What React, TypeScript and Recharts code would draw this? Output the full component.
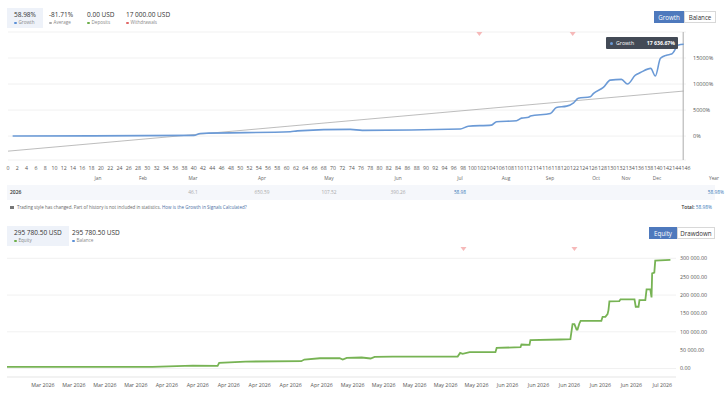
import React from "react";
import {
  LineChart,
  Line,
  XAxis,
  YAxis,
  CartesianGrid,
  ReferenceLine,
  ReferenceDot,
} from "recharts";

// growth chart: [trade index, growth %]
const growthPoints = [
  [1, 0], [40, 130], [41.4, 500], [60.8, 830], [62.3, 1000], [73.7, 1280],
  [76.3, 1100], [97.4, 1350], [99.1, 1900], [104.1, 2100], [105.2, 2750],
  [109.5, 2950], [110.6, 3450], [112.1, 3600], [112.5, 3850], [116.8, 4350],
  [118.1, 5500], [120.3, 5750], [121.8, 6400], [122.8, 7250], [125.4, 7550],
  [126.1, 8200], [128.2, 9350], [129.7, 10750], [132.1, 10900], [133.4, 10000],
  [135.1, 11700], [136.2, 12200], [138.4, 13000], [139.4, 11550], [140.5, 14950],
  [141.8, 15550], [142.9, 15750], [144.4, 17500], [145.5, 17636.67],
];
const trendPoints = [[0, -2900], [145.5, 8650]];
const growthTicks = [
  0, 2, 4, 6, 8, 10, 12, 14, 16, 18, 20, 22, 24, 26, 28, 30, 32, 34, 36, 38,
  40, 42, 44, 46, 48, 50, 52, 54, 56, 58, 60, 62, 64, 66, 68, 70, 72, 74, 76,
  78, 80, 82, 84, 86, 88, 90, 92, 94, 96, 98, 100, 102, 104, 106, 108, 110,
  112, 114, 116, 118, 120, 122, 124, 126, 128, 130, 132, 134, 136, 138, 140,
  142, 144, 146,
];
const growthYTicks = [0, 5000, 10000, 15000];
const growthMarks = [101.5, 121.6];

const months = ["Jan", "Feb", "Mar", "Apr", "May", "Jun", "Jul", "Aug", "Sep", "Oct", "Nov", "Dec", "Year"];
const monthResults = ["", "", "46.1", "650.59", "107.52", "390.26", "58.98", "", "", "", "", "", "58.98%"];

// equity chart: [trade index, USD]
const equityPoints = [
  [0, 4400], [47, 4400], [60, 8200], [68, 7200], [68.5, 15300], [77, 19000],
  [95, 20000], [96, 24500], [101, 28000], [107.4, 28000], [108.4, 24500],
  [109.7, 29000], [114.5, 30000], [117.4, 27300], [118.7, 31800], [124.5, 32700],
  [145.5, 32700], [146.3, 42600], [147.1, 39800], [149.4, 44500], [157.7, 44500],
  [158.1, 56200], [165.8, 58100], [166.1, 65400], [168.7, 64400], [169, 77200],
  [178.7, 79100], [181.9, 80000], [182.6, 120800], [183.2, 120800], [183.9, 106300],
  [184.2, 106300], [184.8, 122700], [185.2, 129900], [191.9, 129900], [192.3, 140800],
  [193.2, 140800], [193.9, 148100], [194.2, 159000], [194.5, 182700], [197.7, 183600],
  [198.1, 188300], [202.6, 188300], [203, 168100], [203.9, 168100], [204.2, 186300],
  [206.1, 186300], [206.5, 215500], [207.7, 215500], [208.1, 193700], [208.3, 259100],
  [209, 260900], [209.3, 293600], [214.2, 295780.5],
];
const equityTicks = [
  11.6, 21.6, 31.6, 41.6, 51.6, 61.6, 71.6, 81.6, 91.6, 101.6, 111.6, 121.6,
  131.6, 141.6, 151.6, 161.6, 171.6, 181.6, 191.6, 201.6, 211.6,
];
const equityLabels = [
  "Mar 2026", "Mar 2026", "Mar 2026", "Mar 2026", "Apr 2026", "Apr 2026",
  "Apr 2026", "Apr 2026", "Apr 2026", "Apr 2026", "May 2026", "May 2026",
  "May 2026", "May 2026", "May 2026", "Jun 2026", "Jun 2026", "Jun 2026",
  "Jun 2026", "Jun 2026", "Jul 2026",
];
const equityYTicks = [0, 50000, 100000, 150000, 200000, 250000, 300000];
const equityMarks = [147.4, 183.2];

// column centres of the calendar table
const monthCols = [98, 143, 193, 262, 329, 398, 460, 506, 550, 596, 626, 657, 704];

const font = "'Open Sans', 'Noto Sans', sans-serif";
const growthData = growthPoints.map(([x, y]) => ({ x, y }));
const trendData = trendPoints.map(([x, y]) => ({ x, y }));
const equityData = equityPoints.map(([x, y]) => ({ x, y }));

// non-breaking space so the svg text does not wrap
const fmtUsd = (v: number) =>
  v.toFixed(2).replace(/\B(?=(\d{3})+(?!\d))/g, "\u00a0");

const Tri = (p: any) => (
  <path
    d={`M${p.cx - 3},${p.cy - 2} L${p.cx + 3},${p.cy - 2} L${p.cx},${p.cy + 2} Z`}
    fill="#f6b9b9"
  />
);

function Stat({ left, top, value, label, color, active }: any) {
  return (
    <div
      style={{
        position: "absolute",
        left,
        top,
        padding: "4px 7px 3px 7px",
        background: active ? "#eef2f9" : "transparent",
        lineHeight: 1,
      }}
    >
      <div style={{ fontSize: 6.5, color: "#333" }}>{value}</div>
      <div style={{ fontSize: 4.6, color: "#888", marginTop: 1.5 }}>
        <span style={{ display: "inline-block", width: 2.5, height: 2.5, borderRadius: 2, background: color, marginRight: 2, verticalAlign: "middle" }} />
        {label}
      </div>
    </div>
  );
}

function Toggle({ left, top, items, widths }: any) {
  return (
    <div style={{ position: "absolute", left, top, display: "flex", fontSize: 6.2 }}>
      {items.map((t: string, i: number) => (
        <div
          key={t}
          style={{
            width: widths[i],
            height: 12,
            lineHeight: "12px",
            textAlign: "center",
            background: i === 0 ? "#4e79bd" : "#fff",
            color: i === 0 ? "#fff" : "#333",
            border: "0.5px solid " + (i === 0 ? "#4e79bd" : "#d8d8d8"),
            boxSizing: "border-box",
          }}
        >
          {t}
        </div>
      ))}
    </div>
  );
}

export default function App() {
  return (
    <div
      style={{
        position: "absolute",
        left: 0,
        top: 0,
        width: 726,
        height: 400,
        background: "#fff",
        fontFamily: font,
        overflow: "hidden",
      }}
    >
      <Stat left={7} top={8} value="58.98%" label="Growth" color="#5b8fd6" active />
      <Stat left={42} top={8} value="-81.71%" label="Average" color="#aaa" />
      <Stat left={80} top={8} value="0.00 USD" label="Deposits" color="#6cae4a" />
      <Stat left={119} top={8} value="17 000.00 USD" label="Withdrawals" color="#e06666" />
      <Toggle left={654} top={11} items={["Growth", "Balance"]} widths={[30, 32]} />

      <div style={{ position: "absolute", left: 0, top: 0 }}>
        <LineChart width={726} height={175} margin={{ top: 32, right: 0, left: 8, bottom: 0 }}>
          <CartesianGrid vertical={false} stroke="#f1f1f1" />
          <XAxis
            type="number"
            dataKey="x"
            domain={[0, 146]}
            ticks={growthTicks}
            interval={0}
            height={15}
            tickLine={false}
            axisLine={false}
            tickSize={6}
            tickMargin={0}
            tick={{ fontSize: 5.2, fill: "#555", fontFamily: font }}
          />
          <YAxis
            orientation="right"
            width={40}
            domain={[-4600, 20000]}
            ticks={growthYTicks}
            tickLine={false}
            axisLine={false}
            tickSize={0}
            tickMargin={7}
            tickFormatter={(v: number) => `${v}%`}
            tick={{ fontSize: 5.5, fill: "#555", fontFamily: font }}
          />
          <ReferenceLine x={145.4} stroke="#b9b9b9" strokeWidth={1.2} />
          <Line data={trendData} dataKey="y" type="linear" stroke="#acacac" strokeWidth={0.8} dot={false} isAnimationActive={false} />
          <Line data={growthData} dataKey="y" type="monotone" stroke="#6b9ad6" strokeWidth={1.6} dot={false} isAnimationActive={false} />
          {growthMarks.map((m) => (
            <ReferenceDot key={m} x={m} y={19600} r={3} shape={Tri} ifOverflow="visible" />
          ))}
        </LineChart>
      </div>

      <div
        style={{
          position: "absolute",
          left: 606,
          top: 37,
          width: 72,
          height: 12,
          background: "#434a56",
          color: "#fff",
          fontSize: 5.2,
          lineHeight: "12px",
          borderRadius: 1,
        }}
      >
        <span style={{ position: "absolute", left: 4, top: 5, width: 2.5, height: 2.5, borderRadius: 2, background: "#6b9ad6" }} />
        <span style={{ position: "absolute", left: 10 }}>Growth</span>
        <span style={{ position: "absolute", right: 3, fontWeight: 700 }}>17 636.67%</span>
      </div>

      {months.map((m, i) => (
        <div key={m} style={{ position: "absolute", left: monthCols[i] - 15, width: 30, top: 175, textAlign: i === 12 ? "right" : "center", fontSize: 4.8, color: "#666" }}>
          {m}
        </div>
      ))}
      <div style={{ position: "absolute", left: 7, top: 185, width: 708, height: 15, background: "#f5f7fb" }} />
      <div style={{ position: "absolute", left: 10, top: 188.5, fontSize: 5, color: "#333", fontWeight: 600 }}>2026</div>
      {monthResults.map((v, i) =>
        v ? (
          <div
            key={i}
            style={{
              position: "absolute",
              left: monthCols[i] - 20,
              width: 40,
              top: 188.5,
              textAlign: i === 12 ? "right" : "center",
              fontSize: 4.8,
              color: i >= 6 ? "#3a7ab8" : "#aaa",
            }}
          >
            {v}
          </div>
        ) : null
      )}
      {/* note under the table */}
      <div style={{ position: "absolute", left: 10, top: 203.5, fontSize: 4.5, color: "#666", whiteSpace: "nowrap" }}>
        <span style={{ display: "inline-block", width: 4, height: 3.5, background: "#777", marginRight: 3, verticalAlign: "middle" }} />
        Trading style has changed. Part of history is not included in statistics.{" "}
        <span style={{ color: "#4a6fa5" }}>How is the Growth in Signals Calculated?</span>
      </div>
      <div style={{ position: "absolute", right: 14, top: 204, fontSize: 4.8, color: "#333", fontWeight: 600 }}>
        Total: <span style={{ color: "#3a7ab8", fontWeight: 400 }}>58.98%</span>
      </div>

      <Stat left={7} top={226} value="295 780.50 USD" label="Equity" color="#6cae4a" active />
      <Stat left={65} top={226} value="295 780.50 USD" label="Balance" color="#5b8fd6" />
      <Toggle left={649} top={227} items={["Equity", "Drawdown"]} widths={[28, 38]} />

      <div style={{ position: "absolute", left: 0, top: 220 }}>
        <LineChart width={726} height={172} margin={{ top: 38.3, right: 0, left: 7, bottom: 0 }}>
          <CartesianGrid vertical={false} stroke="#f1f1f1" />
          <XAxis
            type="number"
            dataKey="x"
            domain={[0, 216]}
            ticks={equityTicks}
            interval={0}
            height={15}
            tickLine={false}
            axisLine={{ stroke: "#ececec" }}
            tickSize={6}
            tickMargin={0}
            tickFormatter={(_v: number, i: number) => equityLabels[i]}
            tick={{ fontSize: 5.3, fill: "#555", fontFamily: font }}
          />
          <YAxis
            orientation="right"
            width={50}
            domain={[-23000, 300000]}
            ticks={equityYTicks}
            tickLine={false}
            axisLine={false}
            tickSize={0}
            tickMargin={4}
            tickFormatter={fmtUsd}
            tick={{ fontSize: 5.3, fill: "#555", fontFamily: font }}
          />
          <Line data={equityData} dataKey="y" type="linear" stroke="#77b354" strokeWidth={1.8} dot={false} isAnimationActive={false} />
          {equityMarks.map((m) => (
            <ReferenceDot key={m} x={m} y={325400} r={3} shape={Tri} ifOverflow="visible" />
          ))}
        </LineChart>
      </div>
    </div>
  );
}
